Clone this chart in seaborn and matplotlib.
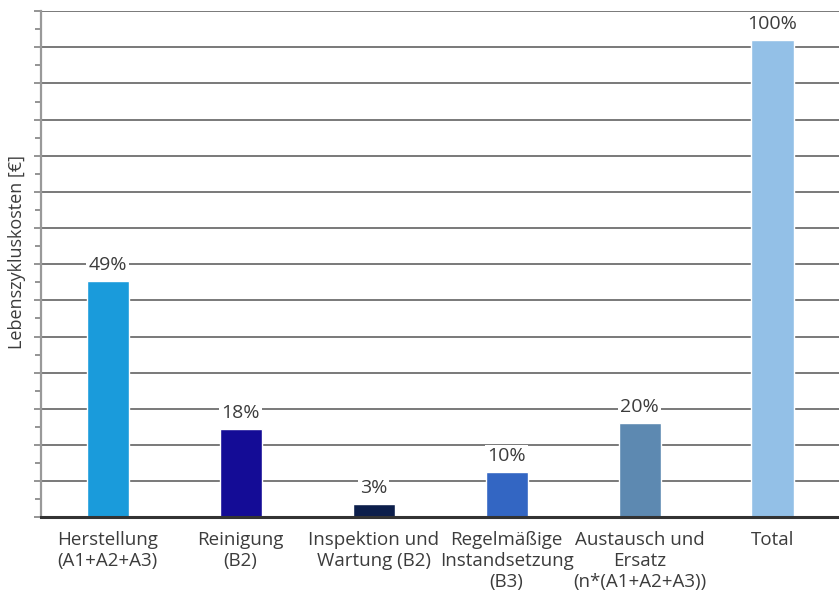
import matplotlib
matplotlib.use("Agg")
import matplotlib.pyplot as plt
import seaborn as sns
import pandas as pd
from matplotlib.ticker import MultipleLocator

# data (bar heights in grid units, labels as printed)
categories = ["Herstellung\n(A1+A2+A3)", "Reinigung\n(B2)", "Inspektion und\nWartung (B2)",
              "Regelmäßige\nInstandsetzung\n(B3)", "Austausch und\nErsatz\n(n*(A1+A2+A3))", "Total"]
heights = [6.54, 2.44, 0.37, 1.25, 2.62, 13.2]
pct_labels = ["49%", "18%", "3%", "10%", "20%", "100%"]
colors = ["#1a9bdb", "#140c96", "#0c1e4b", "#3366c3", "#5d89b1", "#93c0e7"]

df = pd.DataFrame({"cat": categories, "val": heights})

sns.set_style("white")
plt.rcParams["font.family"] = ["Open Sans", "DejaVu Sans"]
txt = "#3c3c3c"

fig = plt.figure(figsize=(8.39, 5.92), dpi=100)
ax = fig.add_axes([0.049, 0.1262, 0.951, 0.855])

sns.barplot(data=df, x="cat", y="val", hue="cat", palette=colors, width=0.316,
            legend=False, saturation=1, ax=ax, zorder=3)

ax.set_ylim(0, 14)
ax.set_xlim(-0.5, len(categories) - 0.5)
ax.yaxis.set_major_locator(MultipleLocator(1))
ax.yaxis.set_minor_locator(MultipleLocator(0.5))
ax.grid(axis="y", which="major", color="#555555", lw=1.1, zorder=0)
ax.set_yticklabels([])
ax.tick_params(axis="y", which="major", left=True, length=5, color="#777777", width=1.1)
ax.tick_params(axis="y", which="minor", left=True, length=4, color="#777777", width=1.1)
ax.tick_params(axis="x", length=0, pad=10, labelsize=13.5, labelcolor=txt)
for t in ax.get_xticklabels():
    t.set_linespacing(1.22)

for s in ["top", "right"]:
    ax.spines[s].set_visible(False)
ax.spines["left"].set_color("#999999")
ax.spines["left"].set_linewidth(1.6)
ax.spines["bottom"].set_color("#333333")
ax.spines["bottom"].set_linewidth(2.2)
ax.spines["bottom"].set_zorder(5)

for i, (h, lab) in enumerate(zip(heights, pct_labels)):
    ax.annotate(lab, (i, h), xytext=(0, 5), textcoords="offset points",
                ha="center", va="bottom", fontsize=14, color=txt, zorder=4,
                bbox=dict(facecolor="white", edgecolor="none", pad=1.5))

ax.set_xlabel("")
ax.set_ylabel("Lebenszykluskosten [€]", fontsize=13, color=txt)
ax.yaxis.set_label_coords(-0.019, 0.524)

fig.savefig("out.png", dpi=100)
